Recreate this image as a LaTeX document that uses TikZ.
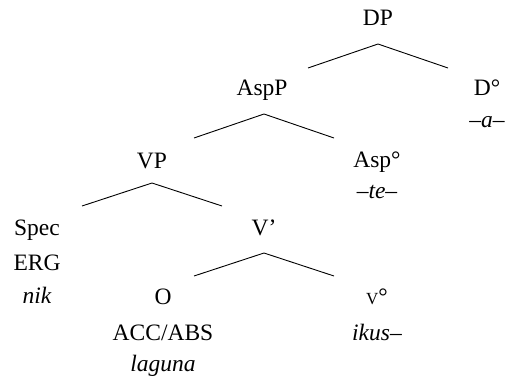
\documentclass[tikz,border=0pt]{standalone}
\usepackage{fontspec}
\setmainfont{Liberation Serif}
\usetikzlibrary{calc}

\begin{document}
\begin{tikzpicture}[x=1pt, y=-1pt,
	lbl/.style={font=\fontsize{23.5}{28}\selectfont, inner sep=0pt, anchor=base},
	arm/.style={line width=0.9pt}]
	\def\armw{70};
	\useasboundingbox (0,0) rectangle (508,380);
	% DP
	\node[lbl] (dp) at (378,25) {DP};
	\coordinate (dpTop) at (378,44);
	\draw[arm] ($(dpTop)+(-\armw,24)$) -- (dpTop) -- ($(dpTop)+(\armw,24)$);
	\node[lbl] (dHead) at (487,95) {D°};
	\node[lbl] (dAffix) at (487,127) {\itshape –a–};
	% AspP
	\node[lbl] (aspp) at (262,95) {AspP};
	\coordinate (asppTop) at (264,114);
	\draw[arm] ($(asppTop)+(-\armw,24)$) -- (asppTop) -- ($(asppTop)+(\armw,24)$);
	\node[lbl] (aspHead) at (377,167) {Asp°};
	\node[lbl] (aspAffix) at (377,198) {\itshape –te–};
	% VP
	\node[lbl] (vp) at (152,168) {VP};
	\coordinate (vpTop) at (152,183);
	\draw[arm] ($(vpTop)+(-\armw,23)$) -- (vpTop) -- ($(vpTop)+(\armw,23)$);
	\node[lbl] (spec) at (37,235) {Spec};
	\node[lbl] (erg) at (37,270) {ERG};
	\node[lbl] (nik) at (37,303) {\itshape nik};
	% V'
	\node[lbl] (vbar) at (264,235) {V’};
	\coordinate (vbarTop) at (264,253);
	\draw[arm] ($(vbarTop)+(-\armw,23)$) -- (vbarTop) -- ($(vbarTop)+(\armw,23)$);
	\node[lbl] (obj) at (163,304) {O};
	\node[lbl] (acc) at (163,340) {ACC/ABS};
	\node[lbl] (laguna) at (163,371) {\itshape laguna};
	\node[lbl] (vHead) at (377,304) {{\fontsize{17}{20}\selectfont V}°};
	\node[lbl] (ikus) at (377,340) {\itshape ikus–};
\end{tikzpicture}
\end{document}
